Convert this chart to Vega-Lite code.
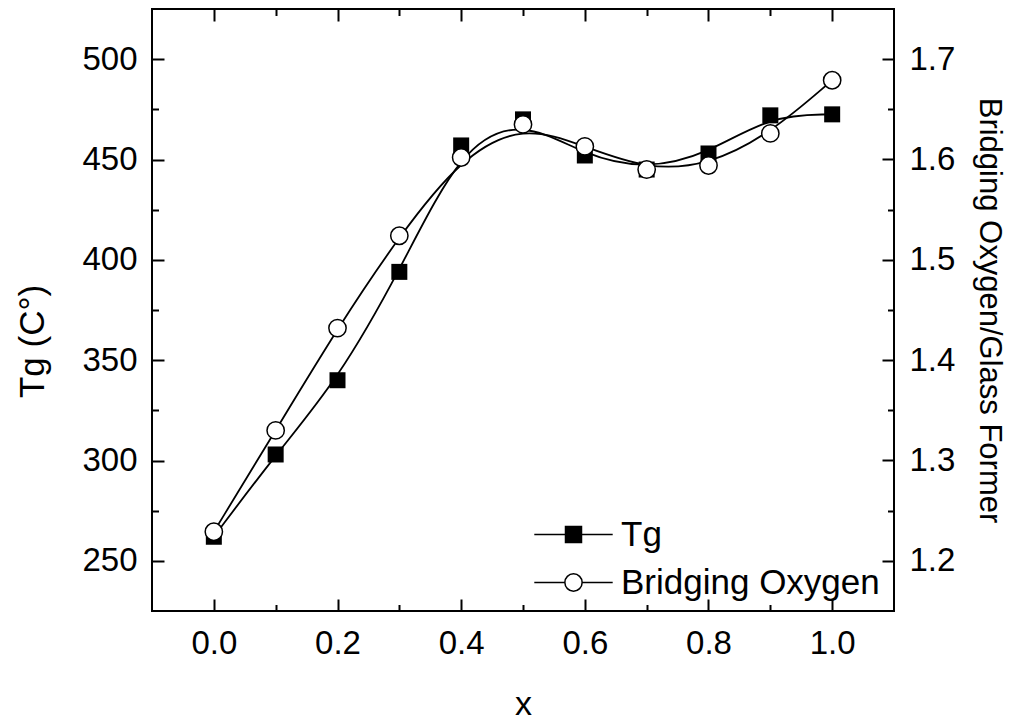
{
  "$schema": "https://vega.github.io/schema/vega-lite/v6.json",
  "width": 742,
  "height": 602,
  "autosize": {"type": "none"},
  "padding": {"left": 152, "top": 9, "right": 123, "bottom": 113},
  "background": "white",
  "config": {
    "view": {"stroke": "black", "strokeWidth": 2},
    "axis": {
      "grid": false, "domain": false, "tickColor": "black", "tickWidth": 2,
      "labelFont": "Liberation Sans", "titleFont": "Liberation Sans",
      "labelFontSize": 33, "titleFontSize": 34, "labelColor": "black", "titleColor": "black",
      "titleFontWeight": "normal"
    },
    "legend": {
      "orient": "none", "legendX": 404, "legendY": 508, "title": null, "symbolOpacity": 1,
      "symbolStrokeColor": "black", "symbolStrokeWidth": 1.5, "symbolSize": 256, "labelOffset": 30,
      "rowPadding": 12, "padding": 0, "labelFont": "Liberation Sans", "labelFontSize": 35,
      "labelColor": "black", "labelLimit": 0
    }
  },
  "datasets": {
    "main": [
      {"x": 0.0, "T": 262, "B": 1.229},
      {"x": 0.1, "T": 303, "B": 1.330},
      {"x": 0.2, "T": 340, "B": 1.432},
      {"x": 0.3, "T": 394, "B": 1.524},
      {"x": 0.4, "T": 457, "B": 1.602},
      {"x": 0.5, "T": 470, "B": 1.635},
      {"x": 0.6, "T": 452, "B": 1.613},
      {"x": 0.7, "T": 445, "B": 1.590},
      {"x": 0.8, "T": 453, "B": 1.594},
      {"x": 0.9, "T": 472, "B": 1.626},
      {"x": 1.0, "T": 472.5, "B": 1.679}
    ],
    "leg": [{"series": "Tg"}, {"series": "Bridging Oxygen"}]
  },
  "data": {"name": "main"},
  "layer": [
    {
      "mark": {"type": "line", "interpolate": "basis", "color": "black", "strokeWidth": 1.8},
      "encoding": {
        "x": {"field": "x", "type": "quantitative", "scale": {"domain": [-0.1, 1.1], "nice": false, "zero": false},
          "axis": {"orient": "bottom", "values": [0, 0.2, 0.4, 0.6, 0.8, 1.0], "format": ".1f", "tickSize": -12, "labelPadding": 28.6,
            "title": "x", "titleY": 103, "titleBaseline": "alphabetic"}},
        "y": {"field": "T", "type": "quantitative", "scale": {"domain": [225, 525], "nice": false, "zero": false},
          "axis": {"orient": "left", "values": [250, 300, 350, 400, 450, 500], "tickSize": -12, "labelPadding": 27,
            "title": "Tg (C°)", "titleFontSize": 35, "titleX": -109, "titleY": 332, "titleBaseline": "alphabetic"}}
      }
    },
    {
      "mark": {"type": "line", "interpolate": "basis", "color": "black", "strokeWidth": 1.8},
      "encoding": {
        "x": {"field": "x", "type": "quantitative", "scale": {"domain": [-0.1, 1.1], "nice": false, "zero": false},
          "axis": {"orient": "top", "values": [0, 0.2, 0.4, 0.6, 0.8, 1.0], "labels": false, "tickSize": -12, "title": null}},
        "y": {"field": "B", "type": "quantitative", "scale": {"domain": [1.15, 1.75], "nice": false, "zero": false},
          "axis": {"orient": "right", "values": [1.2, 1.3, 1.4, 1.5, 1.6, 1.7], "format": ".1f", "tickSize": -12, "labelPadding": 27,
            "title": "Bridging Oxygen/Glass Former", "titleFontSize": 31, "titleX": 85, "titleBaseline": "alphabetic"}}
      }
    },
    {
      "mark": {"type": "point", "shape": "square", "size": 256, "filled": true, "color": "black", "opacity": 1},
      "encoding": {
        "x": {"field": "x", "type": "quantitative", "scale": {"domain": [-0.1, 1.1], "nice": false, "zero": false}, "axis": null},
        "y": {"field": "T", "type": "quantitative", "scale": {"domain": [225, 525], "nice": false, "zero": false}, "axis": null}
      }
    },
    {
      "mark": {"type": "point", "shape": "circle", "size": 300, "fill": "white", "stroke": "black", "strokeWidth": 1.5, "opacity": 1},
      "encoding": {
        "x": {"field": "x", "type": "quantitative", "scale": {"domain": [-0.1, 1.1], "nice": false, "zero": false}, "axis": null},
        "y": {"field": "B", "type": "quantitative", "scale": {"domain": [1.15, 1.75], "nice": false, "zero": false}, "axis": null}
      }
    },
    {
      "mark": {"type": "point", "opacity": 0},
      "encoding": {
        "x": {"field": "x", "type": "quantitative", "scale": {"domain": [-0.1, 1.1], "nice": false, "zero": false},
          "axis": {"orient": "bottom", "values": [0.1, 0.3, 0.5, 0.7, 0.9], "labels": false, "tickSize": -6.5, "title": null}},
        "y": {"field": "T", "type": "quantitative", "scale": {"domain": [225, 525], "nice": false, "zero": false},
          "axis": {"orient": "left", "values": [275, 325, 375, 425, 475], "labels": false, "tickSize": -6.5, "title": null}}
      }
    },
    {
      "mark": {"type": "point", "opacity": 0},
      "encoding": {
        "x": {"field": "x", "type": "quantitative", "scale": {"domain": [-0.1, 1.1], "nice": false, "zero": false},
          "axis": {"orient": "top", "values": [0.1, 0.3, 0.5, 0.7, 0.9], "labels": false, "tickSize": -6.5, "title": null}},
        "y": {"field": "B", "type": "quantitative", "scale": {"domain": [1.15, 1.75], "nice": false, "zero": false},
          "axis": {"orient": "right", "values": [1.25, 1.35, 1.45, 1.55, 1.65], "labels": false, "tickSize": -6.5, "title": null}}
      }
    },
    {
      "data": {"name": "leg"},
      "mark": {"type": "point", "opacity": 0, "strokeWidth": 1.5, "size": 256},
      "encoding": {
        "shape": {"field": "series", "type": "nominal",
          "scale": {"domain": ["Tg", "Bridging Oxygen"],
            "range": ["M-4.9,0L-1,0M-1,-1L1,-1L1,1L-1,1ZM1,0L4.9,0", "M-4.9,0L-1.08,0M1.08,0L4.9,0M-1.08,0A1.08,1.08,0,1,1,1.08,0A1.08,1.08,0,1,1,-1.08,0Z"]}},
        "fill": {"field": "series", "type": "nominal",
          "scale": {"domain": ["Tg", "Bridging Oxygen"], "range": ["black", "white"]}},
        "stroke": {"field": "series", "type": "nominal",
          "scale": {"domain": ["Tg", "Bridging Oxygen"], "range": ["black", "black"]}}
      }
    }
  ],
  "resolve": {
    "scale": {"y": "independent", "shape": "independent", "fill": "independent", "stroke": "independent"},
    "axis": {"x": "independent", "y": "independent"}
  }
}
